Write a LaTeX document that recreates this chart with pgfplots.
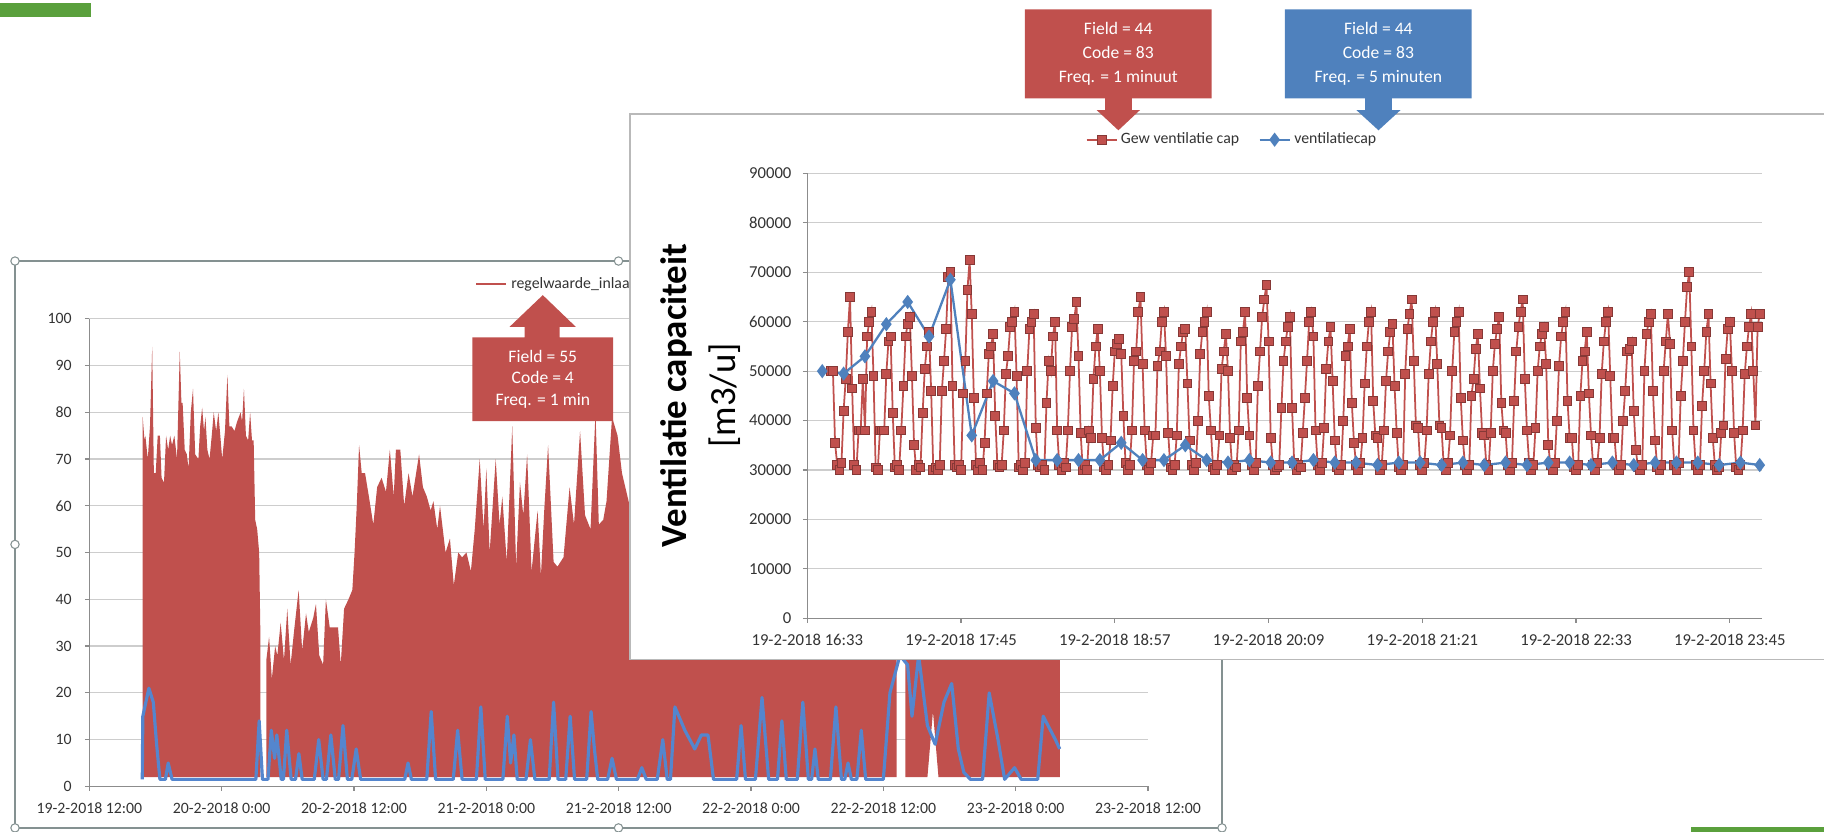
\documentclass[border=0pt]{standalone}
\usepackage{fontspec}
\setmainfont{Carlito}
\usepackage{pgfplots}
\pgfplotsset{compat=1.18}

\definecolor{xred}{RGB}{192,80,77}
\definecolor{xblue}{RGB}{79,129,189}
\definecolor{lblue}{RGB}{84,134,206}
\definecolor{xgreen}{RGB}{90,160,60}
\definecolor{framegray}{RGB}{132,145,145}
\definecolor{gridgray}{RGB}{205,205,205}
\definecolor{axisgray}{RGB}{140,140,140}

\pgfplotsset{
  excel/.style={
    scale only axis, clip=false,
    axis x line*=bottom, axis y line*=left,
    axis line style={draw=axisgray, line width=0.7pt, -},
    x axis line style={-}, y axis line style={-},
    ymajorgrids, grid style={draw=gridgray, line width=0.7pt},
    tick align=outside, major tick length=2.5pt,
    tick style={draw=axisgray, line width=0.7pt},
    scaled ticks=false,
    /pgf/number format/assume math mode=true,
    ticklabel style={text=black!80},
    legend style={draw=none, fill=none, inner sep=0pt, text=black!80},
  },
}

\begin{document}
\begin{tikzpicture}
\begin{scope}[x=0.023266cm, y=-0.023266cm]
  \fill[xgreen] (0,2.3) rectangle (78,15);
  \coordinate (LA) at (76.8,676);
  \coordinate (RA) at (694,531.5);
\end{scope}

% left chart: 1 minute data, 19-2 to 23-2 (x in hours from 19-2-2018 12:00)
\begin{axis}[excel,
  at={(LA)}, anchor=origin,
  width=21.177cm, height=9.353cm,
  xmin=0, xmax=96, ymin=0, ymax=100,
  xtick={0,12,...,96},
  xticklabels={19-2-2018 12:00, 20-2-2018 0:00, 20-2-2018 12:00, 21-2-2018 0:00, 21-2-2018 12:00, 22-2-2018 0:00, 22-2-2018 12:00, 23-2-2018 0:00, 23-2-2018 12:00},
  ytick={0,10,...,100},
  ticklabel style={font=\fontsize{9}{10}\selectfont},
  xticklabel style={yshift=-3pt},
  yticklabel style={xshift=-4pt},
  legend style={at={(0.3639,1.0746)}, anchor=west, font=\fontsize{9}{10}\selectfont},
]
\addlegendimage{xred, line width=1.6pt}
\addlegendentry{regelwaarde\_inlaat}
\addplot[fill=xred, draw=none, forget plot] coordinates {
(4.82,2) (4.84,79) (5.0,74) (5.08,75) (5.3,70) (5.5,77) (5.7,94) (5.85,67) (6.02,67)
(6.2,75) (6.4,75) (6.55,66) (6.77,65) (6.96,75) (7.15,72) (7.33,75) (7.5,73) (7.71,75)
(7.95,70) (8.2,93) (8.35,82) (8.46,82) (8.65,72) (8.84,71) (9.0,68) (9.2,80) (9.4,85)
(9.6,71) (9.89,70) (10.05,77) (10.23,81) (10.4,76) (10.53,79) (10.7,72) (10.9,70)
(11.1,75) (11.28,80) (11.5,76) (11.7,80) (11.84,76) (12.05,70) (12.3,76) (12.52,88)
(12.7,77) (12.9,77) (13.16,76) (13.4,78) (13.72,80) (13.85,78) (14.02,85) (14.2,75)
(14.4,74) (14.58,80) (14.75,74) (14.9,74) (15.04,57) (15.22,55) (15.4,50) (15.52,31) (15.52,2)
} -- cycle;
\addplot[fill=xred, draw=none, forget plot] coordinates {
(16.05,2) (16.05,27) (16.3,32) (16.55,23) (16.85,30) (17.05,28) (17.35,35) (17.65,27)
(17.95,38) (18.25,26) (18.6,34) (18.98,42) (19.3,29) (19.65,37) (19.9,33) (20.3,36)
(20.55,39) (20.85,28) (21.2,26) (21.45,40) (21.8,34) (22.2,34) (22.55,34) (22.8,26)
(23.1,38) (23.5,40) (23.85,42) (24.05,50) (24.25,60) (24.46,73) (24.7,67) (25.0,67)
(25.35,62) (25.75,56) (26.1,64) (26.5,66) (26.9,63) (27.25,72) (27.6,62) (27.8,72)
(28.2,72) (28.55,60) (28.95,67) (29.3,62) (29.9,71) (30.25,64) (30.6,62) (30.95,59)
(31.2,61) (31.55,55) (31.8,60) (32.3,50) (32.7,53) (33.05,43) (33.45,50) (33.8,49)
(34.2,50) (34.6,46) (34.95,55) (35.4,70) (35.75,55) (36.0,68) (36.3,50) (36.85,70)
(37.2,56) (37.45,62) (37.85,48) (38.35,77) (38.7,47) (39.05,65) (39.35,58) (39.7,71)
(40.1,46) (40.65,59) (40.95,45) (41.25,59) (41.6,73) (42.1,48) (42.45,47) (43.0,49)
(43.55,64) (43.95,56) (44.5,76) (44.95,58) (45.45,55) (45.9,80) (46.2,56) (46.6,57)
(46.9,61) (47.4,79) (47.9,75) (48.3,67) (49,60) (50,66) (51,58) (52,70) (53,62) (54,68)
(56,60) (58,72) (60,64) (62,70) (64,62) (66,68) (68,60) (70,66) (72,58) (73.2,55) (73.2,2)
} -- cycle;
\addplot[fill=xred, draw=none, forget plot] coordinates {
(74.0,2) (74.0,50) (76,62) (78,55) (80,64) (82,58) (84,66) (86,60) (88,55)
(88,2) (77.0,2) (76.5,16) (76.0,2)
} -- cycle;
\addplot[lblue, line width=1.8pt, line join=round, forget plot] coordinates {
(4.8,1.5) (4.85,15) (5.4,21) (5.8,18) (6.1,9) (6.4,1.5) (6.9,1.5) (7.15,5) (7.5,1.5)
(15.1,1.5) (15.4,14) (15.7,1.5) (16.2,1.5) (16.5,12) (16.8,6) (17.0,11) (17.4,1.5)
(17.6,1.5) (17.9,12) (18.3,1.5) (18.7,1.5) (19.0,7) (19.3,1.5) (20.4,1.5) (20.8,10)
(21.2,1.5) (21.5,1.5) (21.9,11) (22.3,1.5) (22.6,1.5) (23.0,13) (23.4,1.5) (23.8,1.5)
(24.2,8) (24.6,1.5) (28.6,1.5) (28.9,5) (29.2,1.5) (30.6,1.5) (31.0,16) (31.4,1.5)
(33.0,1.5) (33.4,12) (33.8,1.5) (35.1,1.5) (35.5,17) (35.9,1.5) (37.5,1.5) (37.9,15)
(38.2,5) (38.5,11) (38.8,1.5) (39.6,1.5) (40.0,10) (40.4,1.5) (41.7,1.5) (42.1,18)
(42.5,1.5) (43.2,1.5) (43.6,15) (44.0,1.5) (45.1,1.5) (45.5,16) (45.8,8) (46.1,1.5)
(47.0,1.5) (47.4,6) (47.8,1.5) (49.7,1.5) (50.1,4) (50.5,1.5) (51.5,1.5) (52.0,10)
(52.4,1.5) (52.7,1.5) (53.1,17) (54.0,12) (54.9,8) (55.5,11) (56.1,11) (56.6,1.5)
(57.6,1.5) (58.7,1.5) (59.1,13) (59.5,1.5) (60.4,1.5) (61.0,19) (61.6,1.5) (62.4,1.5)
(62.8,14) (63.2,1.5) (64.2,1.5) (64.7,18) (65.2,1.5) (65.5,1.5) (65.8,8) (66.1,1.5)
(67.2,1.5) (67.7,17) (68.2,1.5) (68.5,1.5) (68.8,5) (69.1,1.5) (69.6,1.5) (70.0,12)
(70.4,1.5) (72.0,1.5) (72.6,20) (73.5,28) (74.2,26) (74.6,15) (75.2,28) (76.0,13)
(76.7,9) (77.5,18) (78.2,22) (78.8,8) (79.3,3) (79.9,1.5) (81.0,1.5) (81.6,20)
(82.4,10) (83.0,1.5) (83.9,4) (84.5,1.5) (86.0,1.5) (86.5,15) (87.6,10) (88.0,8)
};
\end{axis}

\begin{scope}[x=0.023266cm, y=-0.023266cm]
  % left chart frame with selection handles
  \draw[framegray, line width=0.9pt] (12.9,224.4) rectangle (1050.5,711.7);
  \foreach \p in {(12.9,224.4),(531.7,224.4),(12.9,468),(12.9,711.7),(531.7,711.7),(1050.5,711.7),(1050.5,468)}
    \draw[framegray, fill=white, line width=0.6pt] \p circle (3.6);
  % left callout
  \fill[xred] (406,290) -- (451,290) -- (451,281) -- (438,281) -- (466.6,253.7)
    -- (495,281) -- (481,281) -- (481,290) -- (527,290) -- (527,362) -- (406,362) -- cycle;
  \node[text=white, align=center, font=\fontsize{10}{12}\selectfont] at (466.6,326)
    {Field = 55\\Code = 4\\Freq. = 1 min};
  % right chart panel
  \fill[white] (541.5,98) rectangle (1568,567);
  \draw[gray!55, line width=1pt] (1568,98) -- (541.5,98) -- (541.5,567) -- (1568,567);
\end{scope}

% right chart: 19-2-2018, x in minutes after 16:33
\begin{axis}[excel,
  at={(RA)}, anchor=origin,
  width=19.094cm, height=8.899cm,
  xmin=0, xmax=447, ymin=0, ymax=90000,
  xtick={0,72,144,216,288,360,432},
  xticklabels={19-2-2018 16:33, 19-2-2018 17:45, 19-2-2018 18:57, 19-2-2018 20:09, 19-2-2018 21:21, 19-2-2018 22:33, 19-2-2018 23:45},
  ytick={0,10000,...,90000},
  yticklabels={0,10000,20000,30000,40000,50000,60000,70000,80000,90000},
  ticklabel style={font=\fontsize{9.5}{10}\selectfont},
  xticklabel style={yshift=-3pt},
  yticklabel style={xshift=-3pt},
  legend columns=2,
  legend style={at={(0.4457,1.0758)}, anchor=center, font=\fontsize{9}{10}\selectfont,
    /tikz/every even column/.append style={column sep=9pt}},
]
\addplot[xred, line width=1pt, mark=square*, mark size=2.5pt,
  mark options={fill=xred, draw=xred!70!black, line width=0.5pt}] coordinates {
(11,50000) (12,50000) (13,35500) (14,31000) (15,30000) (16,31500) (17,42000) (18,48500) (19,58000) (20,65000)
(21,46500) (22,31000) (23,30000) (24,38000) (25,38000) (26,48500) (27,38000) (28,57000) (29,60000) (30,62000)
(31,49000) (32,30500) (33,30000) (34,38000) (35,38000) (36,38000) (37,49500) (38,56000) (39,57000)
(40,41500) (41,30500) (42,31000) (43,30000) (44,38000) (45,47000) (46,57000) (47,59500) (48,61000)
(49,49000) (50,35000) (51,30000) (52,31000) (53,30500) (54,41500) (55,50500) (56,55000) (57,58000)
(58,46000) (59,30000) (60,30500) (61,30000) (62,31000) (63,46000) (64,52000) (65,58500) (66,69000) (67,70000)
(68,47000) (69,31000) (70,30500) (71,31000) (72,30000) (73,45500) (74,52000) (75,66500) (76,72500)
(77,61500) (78,44500) (79,31000) (80,30000) (81,31500) (82,30000) (83,35500) (84,45500) (85,53500) (86,55000) (87,57500)
(88,41000) (89,31000) (90,30500) (91,31000) (92,38000) (93,49500) (94,53000) (95,59000) (96,60000) (97,62000)
(98,49000) (99,30500) (100,31000) (101,30000) (102,31500) (103,50000) (104,58500) (105,60000) (106,61500)
(107,38500) (108,31000) (109,30500) (110,31000) (111,30000) (112,43500) (113,52000) (114,50000) (115,57000) (116,60000)
(117,38000) (118,31000) (119,30000) (120,31500) (121,30500) (122,38000) (123,50000) (124,59000) (125,60500) (126,64000)
(127,53000) (128,37500) (129,30000) (130,31000) (131,30000) (132,38000) (133,36500) (134,48500) (135,55000) (136,58500)
(137,50000) (138,36500) (139,30500) (140,30000) (141,31000) (142,36000) (143,47000) (144,54000) (145,55500) (146,56500)
(147,53500) (148,41000) (149,31500) (150,30000) (151,31000) (152,38000) (153,52000) (154,54000) (155,62000) (156,65000)
(157,51500) (158,38000) (159,31000) (160,30000) (161,31500) (162,37000) (163,37000) (164,51000) (165,54000) (166,60000) (167,62000)
(168,53000) (169,37500) (170,30500) (171,30000) (172,31000) (173,37000) (174,51500) (175,55000) (176,58000) (177,58500)
(178,47500) (179,36000) (180,31000) (181,30000) (182,31500) (183,40000) (184,53500) (185,58000) (186,60000) (187,62000)
(188,45000) (189,38000) (190,30500) (191,30000) (192,31000) (193,37000) (194,50500) (195,54000) (196,57500)
(197,50000) (198,36500) (199,30000) (200,31000) (201,30500) (202,38000) (203,56000) (204,58000) (205,62000)
(206,44500) (207,37000) (208,31000) (209,30000) (210,31500) (211,47000) (212,54000) (213,61000) (214,64500) (215,67500)
(216,56000) (217,36500) (218,31000) (219,30000) (220,30500) (221,31000) (222,42500) (223,52000) (224,56000) (225,59000) (226,61000)
(227,42500) (228,31500) (229,30000) (230,31000) (231,30500) (232,37500) (233,44500) (234,52000) (235,60000) (236,62000)
(237,57000) (238,38000) (239,31000) (240,30000) (241,31500) (242,38500) (243,50500) (244,56000) (245,59000)
(246,48000) (247,36000) (248,30500) (249,30000) (250,31000) (251,40000) (252,53000) (253,55000) (254,58500)
(255,43500) (256,35500) (257,31000) (258,30000) (259,31500) (260,36500) (261,47500) (262,55000) (263,60000) (264,62000)
(265,44000) (266,37000) (267,36500) (268,30000) (269,31000) (270,38000) (271,48000) (272,54000) (273,58000) (274,59500)
(275,47000) (276,37500) (277,30500) (278,30000) (279,31000) (280,49500) (281,58500) (282,61500) (283,64500)
(284,52000) (285,39000) (286,38500) (287,31000) (288,30000) (289,31500) (290,38000) (291,49500) (292,56000) (293,60000) (294,62000)
(295,51500) (296,39000) (297,38500) (298,31000) (299,30000) (300,31500) (301,37000) (302,50000) (303,58000) (304,60000) (305,62000)
(306,44500) (307,36000) (308,31000) (309,30000) (310,31000) (311,45000) (312,48500) (313,54500) (314,57500)
(315,46500) (316,37500) (317,37000) (318,31000) (319,30000) (320,37500) (321,50000) (322,55500) (323,58500) (324,61000)
(325,43500) (326,38000) (327,37500) (328,31000) (329,30000) (330,31500) (331,44000) (332,54000) (333,59000) (334,62000) (335,64500)
(336,48500) (337,38000) (338,31500) (339,30000) (340,31000) (341,38500) (342,50000) (343,55000) (344,57500) (345,59000)
(346,51500) (347,35000) (348,31000) (349,30000) (350,31500) (351,40000) (352,51000) (353,57000) (354,60000) (355,62000)
(356,44000) (357,36500) (358,36500) (359,30500) (360,30000) (361,31000) (362,45000) (363,52000) (364,54000) (365,58000)
(366,45500) (367,37000) (368,31000) (369,30000) (370,31500) (371,36500) (372,49500) (373,56000) (374,60000) (375,62000)
(376,49000) (377,36500) (378,36500) (379,31000) (380,30000) (381,31000) (382,40000) (383,46000) (384,54000) (385,54500) (386,56000)
(387,42000) (388,34000) (389,30500) (390,30000) (391,31000) (392,50000) (393,57500) (394,60000) (395,61500)
(396,46000) (397,36000) (398,30500) (399,30000) (400,31000) (401,50000) (402,56000) (403,61500)
(404,55500) (405,38000) (406,31000) (407,30000) (408,31500) (409,45000) (410,52000) (411,60000) (412,67000) (413,70000)
(414,55000) (415,38000) (416,31000) (417,30000) (418,31000) (419,43000) (420,50000) (421,58000) (422,61500)
(423,47500) (424,36500) (425,31000) (426,30000) (427,30500) (428,37500) (429,39000) (430,52500) (431,58500) (432,60000)
(433,50000) (434,37500) (435,30500) (436,30000) (437,31000) (438,38000) (439,49500) (440,55000) (441,59000) (442,61500)
(443,50000) (444,39000) (445,59000) (446,61500)
};
\addlegendentry{Gew ventilatie cap}
\addplot[xblue, line width=1.3pt, mark=diamond*, mark size=3pt,
  mark options={fill=xblue, draw=xblue}] coordinates {
(7,50000) (17,49500) (27,53000) (37,59500) (47,64000) (57,57000) (67,68500) (77,37000)
(87,48000) (97,45500) (107,32000) (117,32000) (127,32000) (137,32000) (147,35500) (157,32000)
(167,32000) (177,35000) (187,32000) (197,31500) (207,32000) (217,31500) (227,31500) (237,32000)
(247,31500) (257,31500) (267,31000) (277,31500) (287,31500) (297,31000) (307,31500) (317,31000)
(327,31500) (337,31000) (347,31500) (357,31500) (367,31000) (377,31500) (387,31000) (397,31500)
(407,31500) (417,31500) (427,31000) (437,31500) (446,31000)
};
\addlegendentry{ventilatiecap}
\end{axis}

\begin{scope}[x=0.023266cm, y=-0.023266cm]
  \node[rotate=90, align=center, text=black, font=\fontsize{21}{28}\selectfont] at (602,340)
    {\bfseries Ventilatie capaciteit\\{[m3/u]}};
  % callouts above the right chart
  \fill[xred] (881,8) -- (1041.6,8) -- (1041.6,84.5) -- (973,84.5) -- (973,94.6) -- (980,94.6)
    -- (961.4,112) -- (942.7,94.6) -- (950,94.6) -- (950,84.5) -- (881,84.5) -- cycle;
  \node[text=white, align=center, font=\fontsize{10}{13.6}\selectfont] at (961.3,46.5)
    {Field = 44\\Code = 83\\Freq. = 1 minuut};
  \fill[xblue] (1104.6,8) -- (1265.1,8) -- (1265.1,84.5) -- (1196.5,84.5) -- (1196.5,94.6) -- (1204,94.6)
    -- (1185,112) -- (1166,94.6) -- (1173.5,94.6) -- (1173.5,84.5) -- (1104.6,84.5) -- cycle;
  \node[text=white, align=center, font=\fontsize{10}{13.6}\selectfont] at (1184.9,46.5)
    {Field = 44\\Code = 83\\Freq. = 5 minuten};
  \fill[xgreen] (1454,710.6) rectangle (1568,715);
  \pgfresetboundingbox
  \useasboundingbox (0,0) rectangle (1568,715);
\end{scope}
\end{tikzpicture}
\end{document}
